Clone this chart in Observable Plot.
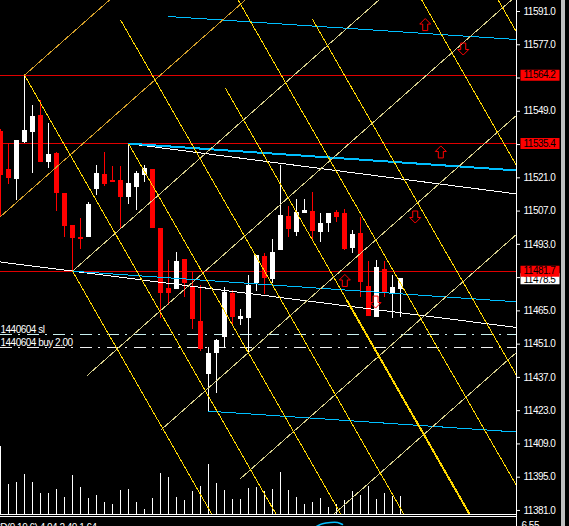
<!DOCTYPE html>
<html>
<head>
<meta charset="utf-8">
<script src="https://cdn.jsdelivr.net/npm/d3@7"></script>
<script src="https://cdn.jsdelivr.net/npm/@observablehq/plot@0.6"></script>
<style>
html,body{margin:0;padding:0;background:#000;overflow:hidden;}
#chart{position:relative;width:569px;height:526px;overflow:hidden;background:#000;font-family:"Liberation Sans",Arial,sans-serif;}
#chart svg{position:absolute;left:0;top:0;max-width:none;}
#chart text{letter-spacing:-0.5px;}
</style>
</head>
<body>
<div id="chart"></div>
<script>
// ---------------- data ----------------
const opens  = [11540.5,11524.5,11520.3,11535.7,11540.2,11547.2,11527.6,11531.1,11514.3,11500.9,11495.8,11496.0,11516.1,11522.4,11519.9,11519.9,11512.6,11517.1,11522.0,11524.5,11499.7,11474.5,11474.0,11486.6,11475.4,11460.5,11438.2,11447.2,11453.9,11472.2,11461.4,11461.9,11476.4,11487.9,11478.1,11490.4,11504.7,11498.1,11505.9,11507.0,11498.1,11501.9,11506.5,11505.9,11491.4,11497.4,11475.3,11462.3,11482.4,11471.8,11474.1];
const highs  = [11541.5,11535.3,11536.9,11564.2,11551.4,11553.5,11543.7,11531.8,11514.4,11501.0,11503.8,11510.5,11526.2,11531.8,11525.8,11525.8,11535.4,11523.8,11526.2,11524.6,11499.8,11486.2,11489.7,11486.7,11481.3,11475.7,11449.7,11453.0,11475.0,11473.6,11465.6,11479.9,11488.4,11489.0,11494.9,11526.2,11508.9,11511.7,11511.7,11514.7,11505.9,11505.9,11507.2,11507.5,11498.8,11504.2,11485.8,11486.2,11485.8,11479.9,11478.6];
const lows   = [11504.4,11518.2,11511.5,11535.5,11522.8,11527.5,11525.0,11506.8,11496.0,11481.7,11490.7,11495.9,11513.6,11517.3,11519.0,11499.8,11509.6,11507.2,11519.2,11499.7,11461.9,11467.3,11473.9,11470.6,11457.0,11447.9,11422.8,11430.2,11449.0,11458.8,11458.8,11447.6,11473.3,11471.8,11476.4,11490.3,11495.8,11496.4,11505.8,11494.9,11493.7,11498.1,11502.3,11490.4,11489.3,11470.8,11462.7,11462.2,11470.8,11461.7,11462.3];
const closes = [11522.0,11520.7,11536.7,11540.9,11546.8,11527.6,11530.7,11514.5,11500.6,11495.6,11495.0,11509.6,11523.0,11518.2,11519.2,11512.8,11518.7,11523.0,11525.0,11499.8,11472.2,11472.2,11485.8,11476.5,11461.4,11448.6,11447.2,11452.5,11472.9,11462.3,11462.8,11475.7,11488.3,11478.5,11489.7,11505.1,11499.2,11506.5,11507.2,11498.5,11501.6,11505.8,11504.4,11490.8,11497.1,11477.1,11462.8,11483.1,11472.9,11475.0,11478.5];
const volumes = [677,300,320,400,317,210,210,247,170,390,270,157,190,120,100,237,247,120,47,157,410,370,170,140,230,280,497,310,237,147,150,260,270,230,250,420,237,170,103,117,160,70,100,140,230,190,280,150,207,180,177];

const yTicks = [11381,11395,11409,11423,11437,11451,11465,11479,11493,11507,11521,11535,11549,11563,11577,11591];
const redLevels = [11564.2, 11535.4, 11481.7];
const bidPrice = 11478.5;

const orderLines = [
  {label: "1440604 sl", price: 11455.0},
  {label: "1440604 buy 2.00", price: 11449.5}
];

// grid of trend lines (bar index, price)
const goldDown = [
  {x1: 9,     y1: 11481.7, x2: 28, y2: 11370.1},
  {x1: 3,     y1: 11564.2, x2: 36, y2: 11370.3},
  {x1: 16,    y1: 11535.4, x2: 44, y2: 11370.9},
  {x1: 15.0,  y1: 11587.5, x2: 51, y2: 11376.0},
  {x1: 28.13, y1: 11558.6, x2: 60, y2: 11371.4},
  {x1: 29.0,  y1: 11600.0, x2: 65, y2: 11388.5},
  {x1: 38.96, y1: 11587.9, x2: 65, y2: 11434.9},
  {x1: 51.94, y1: 11600.0, x2: 65, y2: 11523.2},
  {x1: 61.5,  y1: 11600.0, x2: 65, y2: 11579.4}
];
const goldThick = [
  {x1: 43.3, y1: 11469.4, x2: 60, y2: 11371.4}
];
const goldenUp = [
  {x1: 3,  y1: 11564.2, x2: 16, y2: 11602.9},
  {x1: -1, y1: 11501.7, x2: 33, y2: 11603.0}
];
const khakiUp = [
  {x1: 9,     y1: 11481.7, x2: 49, y2: 11600.9},
  {x1: 10.84, y1: 11437.8, x2: 65, y2: 11599.2},
  {x1: 20.0,  y1: 11414.7, x2: 65, y2: 11548.8},
  {x1: 29.95, y1: 11394.3, x2: 65, y2: 11498.7},
  {x1: 40,    y1: 11374.5, x2: 65, y2: 11449.0}
];
const cyanLines = [
  {x1: 21, y1: 11588.9, x2: 65, y2: 11579.1, w: 1},
  {x1: 16, y1: 11535.4, x2: 65, y2: 11524.0, w: 2},
  {x1: 9,  y1: 11481.7, x2: 65, y2: 11468.7, w: 1},
  {x1: 26, y1: 11422.8, x2: 65, y2: 11413.9, w: 1}
];
const whiteLines = [
  {x1: 16, y1: 11535.4, x2: 65, y2: 11514.0},
  {x1: -1, y1: 11486.0, x2: 65, y2: 11457.8}
];
const arrowsUp   = [{i: 53.09, p: 11585.5}, {i: 55.04, p: 11531.9}, {i: 43.04, p: 11477.8}];
const arrowsDown = [{i: 57.84, p: 11575.2}, {i: 51.84, p: 11504.5}, {i: 46.88, p: 11468.7}];

const macdSignal = [{i: 39.5, v: 0}, {i: 40.25, v: 2.7}, {i: 41.25, v: 4}, {i: 42.13, v: 4}, {i: 42.75, v: 2}];

// ---------------- build ----------------
const W = 569, H = 526;
const candles = opens.map((o, i) => ({i, o, h: highs[i], l: lows[i], c: closes[i]}));
const bulls = candles.filter(d => d.c >= d.o);
const bears = candles.filter(d => d.c < d.o);
const vols = volumes.map((v, i) => ({i, v}));

const xScale = {domain: [0, 64.5], range: [0, 516], axis: null};
const yDomain = [11379.3, 11595.63];
const font = {fontFamily: "Liberation Sans, Arial, sans-serif", fontSize: "10px"};
const crisp = {shapeRendering: "crispEdges"};

// tick labels that sit under a price tag are hidden, as on the original
const tagged = [...redLevels, bidPrice];
const hiddenTick = t => tagged.some(p => Math.abs(p - t) < 5);

const upArrow = {draw(ctx) {
  ctx.moveTo(0, -6); ctx.lineTo(5.5, -0.5); ctx.lineTo(2.5, -0.5); ctx.lineTo(2.5, 6);
  ctx.lineTo(-2.5, 6); ctx.lineTo(-2.5, -0.5); ctx.lineTo(-5.5, -0.5); ctx.closePath();
}};
const downArrow = {draw(ctx) {
  ctx.moveTo(0, 6); ctx.lineTo(5.5, 0.5); ctx.lineTo(2.5, 0.5); ctx.lineTo(2.5, -6);
  ctx.lineTo(-2.5, -6); ctx.lineTo(-2.5, 0.5); ctx.lineTo(-5.5, 0.5); ctx.closePath();
}};
const tagBox = {draw(ctx) { ctx.rect(-19.5, -5.5, 39, 11); }};

const lk = (data, stroke, w = 1) => Plot.link(data, {x1: "x1", y1: "y1", x2: "x2", y2: "y2", stroke, strokeWidth: w, clip: true, ...crisp});

// volume layer (bottom)
const volPlot = Plot.plot({
  width: W, height: H, marginLeft: 0, marginRight: 53, marginTop: 0, marginBottom: 12,
  style: {background: "#000", ...font},
  x: xScale,
  y: {domain: [0, 1000], range: [514, 414], axis: null},
  marks: [
    Plot.ruleX(vols, {x: "i", y1: 0, y2: "v", stroke: "#ffffff", ...crisp})
  ]
});

// main price layer
const mainPlot = Plot.plot({
  width: W, height: H, marginLeft: 0, marginRight: 53, marginTop: 0, marginBottom: 12,
  style: {background: "transparent", color: "#fff", ...font},
  x: xScale,
  y: {domain: yDomain, label: null},
  marks: [
    Plot.ruleY(redLevels, {stroke: "#e00000", ...crisp}),
    Plot.ruleY(orderLines.slice(0, 1), {y: "price", stroke: "#c8f0f0", strokeDasharray: "12,6,2,6.7", ...crisp}),
    Plot.ruleY(orderLines.slice(1), {y: "price", stroke: "#f0f0f0", strokeDasharray: "12,6,2,6.7", ...crisp}),
    Plot.text(orderLines, {y: "price", text: "label", frameAnchor: "left", textAnchor: "start", dy: -5, fill: "#ffffff", fontSize: 10}),
    // candles
    Plot.ruleX(bulls, {x: "i", y1: "l", y2: "h", stroke: "#ffffff", ...crisp}),
    Plot.ruleX(bulls, {x: "i", y1: "o", y2: "c", stroke: "#ffffff", strokeWidth: 5, ...crisp}),
    Plot.ruleX(bears, {x: "i", y1: "l", y2: "h", stroke: "#ff0000", ...crisp}),
    Plot.ruleX(bears, {x: "i", y1: "o", y2: "c", stroke: "#ff0000", strokeWidth: 5, ...crisp}),
    // objects
    lk(whiteLines, "#ffffff"),
    lk(cyanLines.filter(d => d.w === 1), "#00bfff"),
    lk(cyanLines.filter(d => d.w === 2), "#00bfff", 2),
    lk(goldenUp, "#d4a02a"),
    lk(khakiUp, "#d6cf8c"),
    lk(goldDown, "#ffd700"),
    lk(goldThick, "#ffd700", 2),
    Plot.dot(arrowsUp, {x: "i", y: "p", symbol: upArrow, stroke: "#ff0000", fill: "none", strokeWidth: 1}),
    Plot.dot(arrowsDown, {x: "i", y: "p", symbol: downArrow, stroke: "#ff0000", fill: "none", strokeWidth: 1}),
    // frame chrome
    Plot.ruleY([11379.3, 11378.46], {stroke: "#ffffff", ...crisp}),
    Plot.ruleX([64.5], {y1: 11595.63, y2: 11374.0, stroke: "#ffffff", ...crisp}),
    // right price scale
    Plot.axisY(yTicks, {anchor: "right", label: null, tickSize: 3, tickPadding: 4,
      tickFormat: d => hiddenTick(d) ? "" : d.toFixed(1), color: "#ffffff", fontSize: 10}),
    Plot.dot([bidPrice], {y: d => d, frameAnchor: "right", dx: 23.5, symbol: tagBox, fill: "#ffffff", stroke: "none"}),
    Plot.text([bidPrice], {y: d => d, text: d => d.toFixed(1), frameAnchor: "right", dx: 7, dy: 1, textAnchor: "start", fill: "#000000", fontSize: 10}),
    Plot.dot(redLevels, {y: d => d, frameAnchor: "right", dx: 23.5, symbol: tagBox, fill: "#ff0000", stroke: "none"}),
    Plot.text(redLevels, {y: d => d, text: d => d.toFixed(1), frameAnchor: "right", dx: 7, textAnchor: "start", fill: "#000000", fontSize: 10})
  ]
});

// indicator sub-window strip
const macdPlot = Plot.plot({
  width: W, height: H, marginLeft: 0, marginRight: 53, marginTop: 0, marginBottom: 12,
  style: {background: "transparent", ...font},
  x: xScale,
  y: {domain: [0, 10], range: [526, 516], axis: null},
  marks: [
    Plot.line(macdSignal, {x: "i", y: "v", stroke: "#00bfff", curve: "natural"}),
    Plot.text(["MACD(9,19,6) 4.04 2.40 1.64"], {frameAnchor: "bottom-left", dx: -21, dy: 16, textAnchor: "start", fill: "#ffffff", fontSize: 10}),
    Plot.text(["6.55"], {frameAnchor: "bottom-right", dx: 5, dy: 14, textAnchor: "start", fill: "#ffffff", fontSize: 10})
  ]
});

const host = document.getElementById("chart");
host.appendChild(volPlot);
host.appendChild(mainPlot);
host.appendChild(macdPlot);

// scrollbar strip at the far right
const strip = document.createElement("div");
strip.style.cssText = "position:absolute;left:561px;top:0;width:4px;height:526px;background:#c0c0c0;";
host.appendChild(strip);
</script>
</body>
</html>
